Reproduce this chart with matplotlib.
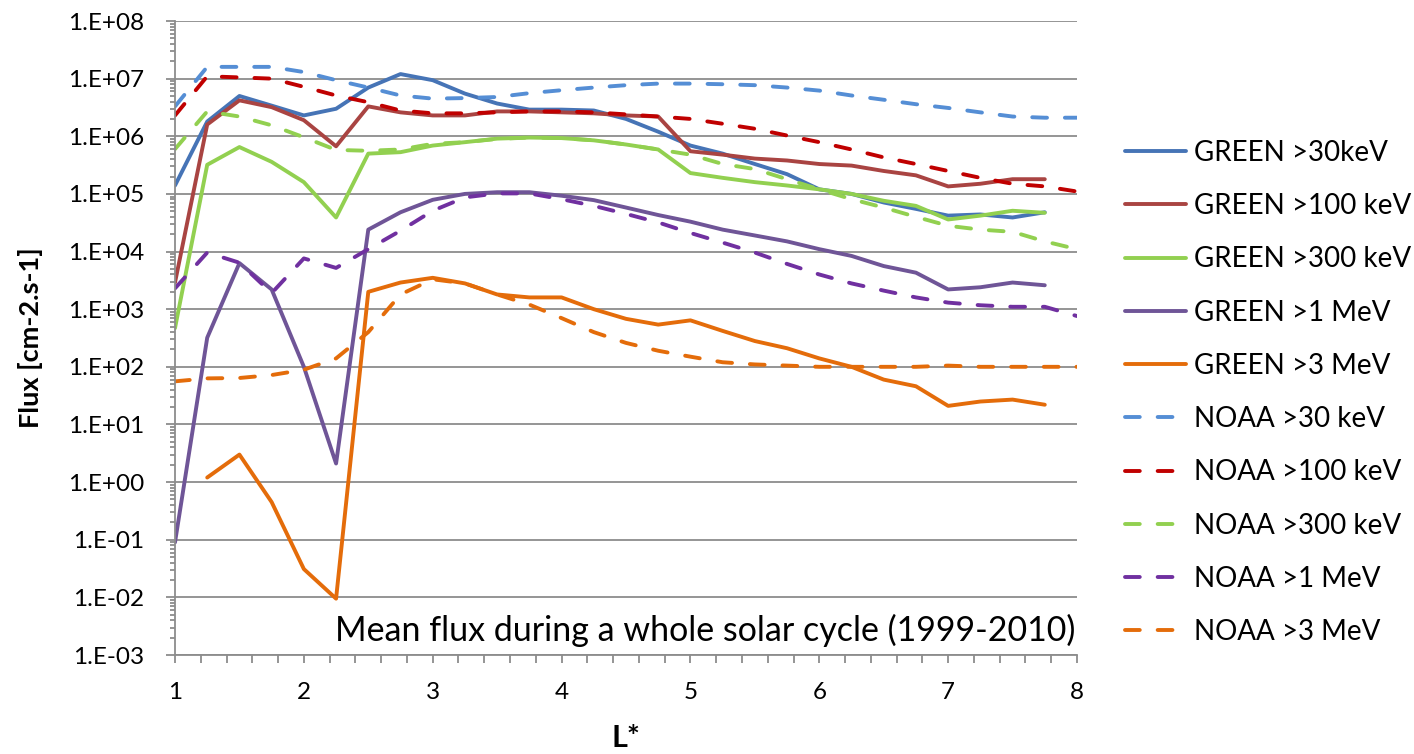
import numpy as np
import matplotlib
matplotlib.use("Agg")
import matplotlib.pyplot as plt
from matplotlib.ticker import LogLocator, FuncFormatter, MultipleLocator, NullFormatter

plt.rcParams["font.family"] = ["Lato", "DejaVu Sans"]

# L* values (GREEN up to 7.75, NOAA up to 8)
L_green = [1.0, 1.25, 1.5, 1.75, 2.0, 2.25, 2.5, 2.75, 3.0, 3.25, 3.5, 3.75, 4.0, 4.25,
           4.5, 4.75, 5.0, 5.25, 5.5, 5.75, 6.0, 6.25, 6.5, 6.75, 7.0, 7.25, 7.5, 7.75]
L_noaa = L_green + [8.0]

green_30 = [1.4e5, 1.8e6, 5.0e6, 3.4e6, 2.3e6, 3.0e6, 7.0e6, 1.2e7, 9.4e6, 5.5e6, 3.7e6, 2.9e6, 2.9e6, 2.8e6,
            2.0e6, 1.2e6, 6.9e5, 5.0e5, 3.3e5, 2.2e5, 1.2e5, 1.0e5, 7.1e4, 5.5e4, 4.2e4, 4.4e4, 3.9e4, 4.8e4]
green_100 = [2.9e3, 1.6e6, 4.2e6, 3.2e6, 1.9e6, 6.7e5, 3.3e6, 2.6e6, 2.3e6, 2.3e6, 2.7e6, 2.7e6, 2.6e6, 2.5e6,
             2.3e6, 2.2e6, 5.5e5, 4.8e5, 4.1e5, 3.8e5, 3.3e5, 3.1e5, 2.5e5, 2.1e5, 1.35e5, 1.5e5, 1.8e5, 1.8e5]
green_300 = [4.7e2, 3.2e5, 6.5e5, 3.6e5, 1.6e5, 3.9e4, 5.0e5, 5.3e5, 6.9e5, 7.9e5, 9.1e5, 9.5e5, 9.3e5, 8.5e5,
             7.2e5, 5.9e5, 2.3e5, 1.9e5, 1.6e5, 1.4e5, 1.2e5, 1.0e5, 7.6e4, 6.2e4, 3.6e4, 4.2e4, 5.1e4, 4.7e4]
green_1MeV = [0.09, 3.2e2, 6.3e3, 2.2e3, 1.0e2, 2.1, 2.4e4, 4.8e4, 7.9e4, 1.0e5, 1.07e5, 1.07e5, 9.3e4, 7.8e4,
              5.8e4, 4.3e4, 3.3e4, 2.4e4, 1.9e4, 1.5e4, 1.1e4, 8.4e3, 5.6e3, 4.3e3, 2.2e3, 2.4e3, 2.9e3, 2.6e3]
green_3MeV = [np.nan, 1.2, 3.0, 0.45, 0.031, 0.0095, 2.0e3, 2.9e3, 3.5e3, 2.8e3, 1.8e3, 1.6e3, 1.6e3, 1.0e3,
              6.8e2, 5.4e2, 6.4e2, 4.2e2, 2.8e2, 2.1e2, 1.4e2, 1.0e2, 6.0e1, 4.6e1, 2.1e1, 2.5e1, 2.7e1, 2.2e1]

noaa_30 = [3.3e6, 1.6e7, 1.6e7, 1.6e7, 1.3e7, 9.4e6, 7.0e6, 5.1e6, 4.5e6, 4.6e6, 4.8e6, 5.6e6, 6.3e6, 7.0e6,
           7.7e6, 8.2e6, 8.2e6, 8.0e6, 7.7e6, 7.0e6, 6.2e6, 5.1e6, 4.3e6, 3.6e6, 3.1e6, 2.6e6, 2.2e6, 2.1e6, 2.1e6]
noaa_100 = [2.3e6, 1.1e7, 1.05e7, 1.0e7, 7.2e6, 5.1e6, 3.9e6, 2.8e6, 2.5e6, 2.5e6, 2.6e6, 2.7e6, 2.7e6, 2.6e6,
            2.4e6, 2.2e6, 2.0e6, 1.65e6, 1.35e6, 1.03e6, 7.9e5, 5.9e5, 4.3e5, 3.3e5, 2.5e5, 1.9e5, 1.5e5, 1.35e5, 1.1e5]
noaa_300 = [6.0e5, 2.7e6, 2.2e6, 1.55e6, 9.6e5, 5.8e5, 5.6e5, 5.9e5, 7.4e5, 7.9e5, 9.0e5, 9.5e5, 9.3e5, 8.5e5,
            7.2e5, 5.9e5, 4.8e5, 3.3e5, 2.7e5, 1.8e5, 1.2e5, 8.1e4, 5.8e4, 4.0e4, 2.8e4, 2.4e4, 2.2e4, 1.5e4, 1.1e4]
noaa_1MeV = [2.3e3, 9.6e3, 6.4e3, 1.9e3, 7.6e3, 5.2e3, 1.1e4, 2.3e4, 5.1e4, 8.7e4, 1.02e5, 1.02e5, 8.1e4, 6.2e4,
             4.5e4, 3.2e4, 2.1e4, 1.43e4, 9.6e3, 6.1e3, 4.0e3, 2.8e3, 2.1e3, 1.6e3, 1.3e3, 1.17e3, 1.1e3, 1.1e3, 7.6e2]
noaa_3MeV = [56, 63, 64, 72, 89, 1.4e2, 4.0e2, 1.8e3, 3.3e3, 2.8e3, 1.8e3, 1.2e3, 7.0e2, 4.0e2,
             2.6e2, 1.9e2, 1.5e2, 1.2e2, 1.1e2, 1.05e2, 1.0e2, 1.0e2, 1.0e2, 1.0e2, 1.05e2, 1.0e2, 1.0e2, 1.0e2, 1.0e2]

green_series = [
    ("GREEN >30keV", green_30, "#4674B6"),
    ("GREEN >100 keV", green_100, "#A94442"),
    ("GREEN >300 keV", green_300, "#92D050"),
    ("GREEN >1 MeV", green_1MeV, "#6F5597"),
    ("GREEN >3 MeV", green_3MeV, "#E46C0A"),
]
noaa_series = [
    ("NOAA >30 keV", noaa_30, "#558ED5"),
    ("NOAA >100 keV", noaa_100, "#C00000"),
    ("NOAA >300 keV", noaa_300, "#92D050"),
    ("NOAA >1 MeV", noaa_1MeV, "#7030A0"),
    ("NOAA >3 MeV", noaa_3MeV, "#E46C0A"),
]

grid_col = "#8C8C8C"

fig = plt.figure(figsize=(14.14, 7.54), dpi=100)
ax = fig.add_axes([175 / 1414, 1 - 655 / 754, (1077 - 175) / 1414, (655 - 21) / 754])

for name, vals, col in green_series:
    ax.plot(L_green, vals, color=col, lw=2.8, label=name, solid_capstyle="round")
for name, vals, col in noaa_series:
    ax.plot(L_noaa, vals, color=col, lw=2.8, label=name, dashes=(3.8, 4.6),
            dash_capstyle="round")

ax.set_yscale("log")
ax.set_ylim(1e-3, 1e8)
ax.set_xlim(1, 8)

ax.yaxis.set_major_locator(LogLocator(base=10, numticks=20))
ax.yaxis.set_minor_locator(LogLocator(base=10, subs=np.arange(2, 10), numticks=20))
ax.yaxis.set_major_formatter(FuncFormatter(lambda v, p: "1.E%+03d" % int(round(np.log10(v)))))
ax.yaxis.set_minor_formatter(NullFormatter())
ax.xaxis.set_major_locator(MultipleLocator(1))
ax.xaxis.set_minor_locator(MultipleLocator(0.2))

ax.grid(axis="y", which="major", color=grid_col, lw=1.3)
ax.set_axisbelow(True)
for s in ["top", "right"]:
    ax.spines[s].set_visible(False)
for s in ["left", "bottom"]:
    ax.spines[s].set_color(grid_col)
    ax.spines[s].set_linewidth(1.3)

ax.tick_params(axis="y", which="major", length=6.5, width=1.3, color=grid_col, labelsize=17.5, pad=15.8)
ax.tick_params(axis="y", which="minor", length=3.6, width=1.3, color=grid_col)
ax.tick_params(axis="x", which="both", length=5.8, width=1.3, color=grid_col, labelsize=17.5, pad=13.6)

ax.set_ylabel("Flux [cm-2.s-1]", fontsize=19.5, fontweight="bold")
ax.yaxis.set_label_coords((43 - 175) / 902, 0.5)
ax.set_xlabel("L*", fontsize=22, fontweight="bold")
ax.xaxis.set_label_coords(0.5, (655 - 724) / 634)

fig.text(1075 / 1414, 1 - 630 / 754, "Mean flux during a whole solar cycle (1999-2010)",
         fontsize=24.5, ha="right", va="center")

fig.legend(loc="upper left", bbox_to_anchor=(1125 / 1414, 1 - 140 / 754), frameon=False,
           fontsize=20, handlelength=2.2, handletextpad=0.3, labelspacing=0.98,
           borderpad=0, borderaxespad=0)

fig.savefig("out.png", dpi=100)
